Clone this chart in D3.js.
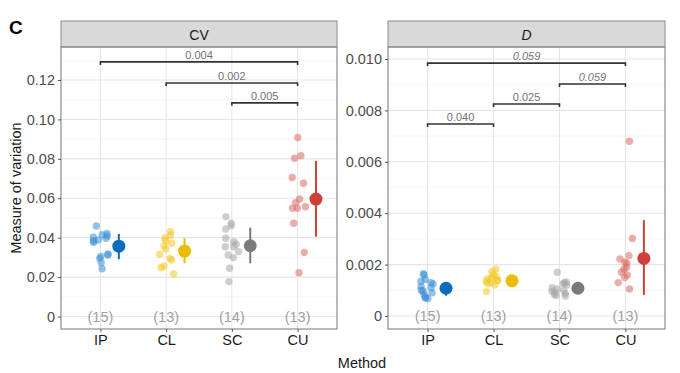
<!DOCTYPE html>
<html>
<head>
<meta charset="utf-8">
<script src="https://cdn.jsdelivr.net/npm/d3@7"></script>
<style>
  body { margin: 0; background: #fff; }
  svg { font-family: "Liberation Sans", Arial, sans-serif; }
</style>
</head>
<body>
<svg width="680" height="373"></svg>
<script>
// categories and counts
var methods = ["IP", "CL", "SC", "CU"];
var counts = [15, 13, 14, 13];

// CV values per method
var cvIP = [0.0459, 0.0421, 0.0415, 0.0409, 0.0402, 0.0397, 0.0388, 0.0383, 0.0377, 0.0317, 0.0312, 0.0305, 0.0295, 0.0273, 0.0242];
var cvCL = [0.0430, 0.0412, 0.0398, 0.0385, 0.0372, 0.0358, 0.0343, 0.0316, 0.0295, 0.0287, 0.0256, 0.0248, 0.0216];
var cvSC = [0.0507, 0.0473, 0.0461, 0.0444, 0.0397, 0.0380, 0.0367, 0.0354, 0.0354, 0.0329, 0.0312, 0.0299, 0.0245, 0.0177];
var cvCU = [0.0908, 0.0816, 0.0803, 0.0705, 0.0676, 0.0596, 0.0578, 0.0557, 0.0549, 0.0549, 0.0473, 0.0325, 0.0222];
var cvMean = [0.0357, 0.0332, 0.0359, 0.0596];
var cvLo = [0.0291, 0.0270, 0.0270, 0.0405];
var cvHi = [0.0419, 0.0397, 0.0451, 0.0789];

// D values per method
var dIP = [0.00165, 0.00160, 0.00142, 0.00135, 0.00130, 0.00125, 0.00115, 0.00110, 0.00100, 0.00098, 0.00090, 0.00085, 0.00075, 0.00070, 0.00068];
var dCL = [0.00182, 0.00172, 0.00160, 0.00153, 0.00148, 0.00145, 0.00140, 0.00138, 0.00135, 0.00130, 0.00125, 0.00121, 0.00095];
var dSC = [0.00170, 0.00132, 0.00130, 0.00126, 0.00121, 0.00110, 0.00105, 0.00100, 0.00096, 0.00092, 0.00088, 0.00085, 0.00080, 0.00078];
var dCU = [0.00680, 0.00302, 0.00235, 0.00222, 0.00210, 0.00205, 0.00190, 0.00182, 0.00170, 0.00160, 0.00150, 0.00130, 0.00105];
var dMean = [0.00108, 0.00137, 0.00108, 0.00224];
var dLo = [0.00079, 0.00129, 0.00097, 0.00082];
var dHi = [0.00127, 0.00145, 0.00119, 0.00373];

// tick labels
var cvTicks = [0, 0.02, 0.04, 0.06, 0.08, 0.10, 0.12];
var cvTickLabels = ["0", "0.02", "0.04", "0.06", "0.08", "0.10", "0.12"];
var dTicks = [0, 0.002, 0.004, 0.006, 0.008, 0.010];
var dTickLabels = ["0", "0.002", "0.004", "0.006", "0.008", "0.010"];

// significance brackets
var cvBrackets = [
  { a: "IP", b: "CU", y: 0.1292, label: "0.004", italic: false },
  { a: "CL", b: "CU", y: 0.1185, label: "0.002", italic: false },
  { a: "SC", b: "CU", y: 0.1084, label: "0.005", italic: false }
];
var dBrackets = [
  { a: "IP", b: "CU", y: 0.00984, label: "0.059", italic: true },
  { a: "SC", b: "CU", y: 0.00903, label: "0.059", italic: true },
  { a: "CL", b: "SC", y: 0.00825, label: "0.025", italic: false },
  { a: "IP", b: "CL", y: 0.00747, label: "0.040", italic: false }
];

var fill = ["#3a8fd6", "#f2c623", "#a6a6a6", "#d96a64"];
var dark = ["#0b6bbd", "#ebbb00", "#7a7a7a", "#cf3f37"];

var svg = d3.select("svg");
var top0 = 47, bot0 = 329;

function drawPanel(opt) {
  var x = d3.scaleLinear().domain([0.4, 4.6]).range([opt.x0, opt.x1]);
  var y = d3.scaleLinear().domain(opt.ydom).range([bot0, top0]);
  var g = svg.append("g");

  // strip
  g.append("rect").attr("x", opt.x0).attr("y", 21).attr("width", opt.x1 - opt.x0).attr("height", top0 - 21)
    .attr("fill", "#d9d9d9").attr("stroke", "#8c8c8c").attr("stroke-width", 1);
  g.append("text").attr("x", (opt.x0 + opt.x1) / 2).attr("y", 39.5).attr("text-anchor", "middle")
    .attr("font-size", 14).attr("fill", "#1a1a1a").attr("font-style", opt.stripItalic ? "italic" : "normal")
    .text(opt.strip);

  // grid
  g.selectAll(".minor").data(opt.minor).enter().append("line")
    .attr("x1", opt.x0).attr("x2", opt.x1).attr("y1", d => y(d)).attr("y2", d => y(d))
    .attr("stroke", "#f2f2f2").attr("stroke-width", 0.8);
  g.selectAll(".major").data(opt.ticks).enter().append("line")
    .attr("x1", opt.x0).attr("x2", opt.x1).attr("y1", d => y(d)).attr("y2", d => y(d))
    .attr("stroke", "#e6e6e6").attr("stroke-width", 1.1);
  g.selectAll(".vgrid").data(methods).enter().append("line")
    .attr("x1", (d, i) => x(i + 1)).attr("x2", (d, i) => x(i + 1)).attr("y1", top0).attr("y2", bot0)
    .attr("stroke", "#e6e6e6").attr("stroke-width", 1.1);

  // counts
  g.selectAll(".cnt").data(counts).enter().append("text")
    .attr("x", (d, i) => x(i + 1)).attr("y", y(0) + 5).attr("text-anchor", "middle")
    .attr("font-size", 14.5).attr("fill", "#a0a0a0").text(d => "(" + d + ")");

  // jittered points
  var rnd = d3.randomLcg(opt.seed);
  opt.series.forEach(function (vals, i) {
    g.selectAll(".pt" + i).data(vals).enter().append("circle")
      .attr("cx", () => x(i + 1 + (rnd() - 0.5) * 0.24))
      .attr("cy", d => y(d)).attr("r", 3.7)
      .attr("fill", fill[i]).attr("fill-opacity", 0.55);
  });

  // mean and interval
  var sx = i => x(i + 1 + 0.28);
  g.selectAll(".eb").data(opt.mean).enter().append("line")
    .attr("x1", (d, i) => sx(i)).attr("x2", (d, i) => sx(i))
    .attr("y1", (d, i) => y(opt.lo[i])).attr("y2", (d, i) => y(opt.hi[i]))
    .attr("stroke", (d, i) => dark[i]).attr("stroke-width", 2);
  g.selectAll(".mn").data(opt.mean).enter().append("circle")
    .attr("cx", (d, i) => sx(i)).attr("cy", d => y(d)).attr("r", 6.5)
    .attr("fill", (d, i) => dark[i]);

  // brackets
  opt.brackets.forEach(function (b) {
    var xa = x(methods.indexOf(b.a) + 1), xb = x(methods.indexOf(b.b) + 1), yy = y(b.y);
    g.append("path").attr("d", "M" + xa + "," + (yy + 3) + "V" + yy + "H" + xb + "V" + (yy + 3))
      .attr("fill", "none").attr("stroke", "#333").attr("stroke-width", 1.6);
    g.append("text").attr("x", (xa + xb) / 2).attr("y", yy - 3).attr("text-anchor", "middle")
      .attr("font-size", 11).attr("fill", "#737373").attr("font-style", b.italic ? "italic" : "normal")
      .text(b.label);
  });

  // border
  g.append("rect").attr("x", opt.x0).attr("y", top0).attr("width", opt.x1 - opt.x0).attr("height", bot0 - top0)
    .attr("fill", "none").attr("stroke", "#8c8c8c").attr("stroke-width", 1.2);

  // y axis
  var ya = d3.axisLeft(y).tickValues(opt.ticks).tickFormat((d, i) => opt.labels[i]).tickSize(3).tickPadding(3);
  var yg = g.append("g").attr("transform", "translate(" + opt.x0 + ",0)").call(ya);
  yg.select(".domain").remove();
  yg.selectAll("line").attr("stroke", "#555");
  yg.selectAll("text").attr("font-size", 14.5).attr("fill", "#4d4d4d").attr("font-family", "Liberation Sans, Arial, sans-serif");

  // x axis
  var xa = d3.axisBottom(x).tickValues([1, 2, 3, 4]).tickFormat((d, i) => methods[i]).tickSize(3).tickPadding(3);
  var xg = g.append("g").attr("transform", "translate(0," + bot0 + ")").call(xa);
  xg.select(".domain").remove();
  xg.selectAll("line").attr("stroke", "#555");
  xg.selectAll("text").attr("font-size", 14.5).attr("fill", "#1a1a1a").attr("font-family", "Liberation Sans, Arial, sans-serif");
}

drawPanel({
  x0: 61, x1: 337, ydom: [-0.00634, 0.13675], strip: "CV", stripItalic: false,
  ticks: cvTicks, labels: cvTickLabels, minor: [0.01, 0.03, 0.05, 0.07, 0.09, 0.11, 0.13],
  series: [cvIP, cvCL, cvSC, cvCU], mean: cvMean, lo: cvLo, hi: cvHi, brackets: cvBrackets, seed: 7
});
drawPanel({
  x0: 388, x1: 665, ydom: [-0.000506, 0.010467], strip: "D", stripItalic: true,
  ticks: dTicks, labels: dTickLabels, minor: [0.001, 0.003, 0.005, 0.007, 0.009],
  series: [dIP, dCL, dSC, dCU], mean: dMean, lo: dLo, hi: dHi, brackets: dBrackets, seed: 11
});

// titles
svg.append("text").attr("x", 9).attr("y", 34).attr("font-size", 19).attr("font-weight", "bold").text("C");
svg.append("text").attr("transform", "translate(21,188) rotate(-90)").attr("text-anchor", "middle")
  .attr("font-size", 14.5).attr("fill", "#1a1a1a").text("Measure of variation");
svg.append("text").attr("x", 362).attr("y", 368).attr("text-anchor", "middle")
  .attr("font-size", 14.5).attr("fill", "#1a1a1a").text("Method");
</script>
</body>
</html>
